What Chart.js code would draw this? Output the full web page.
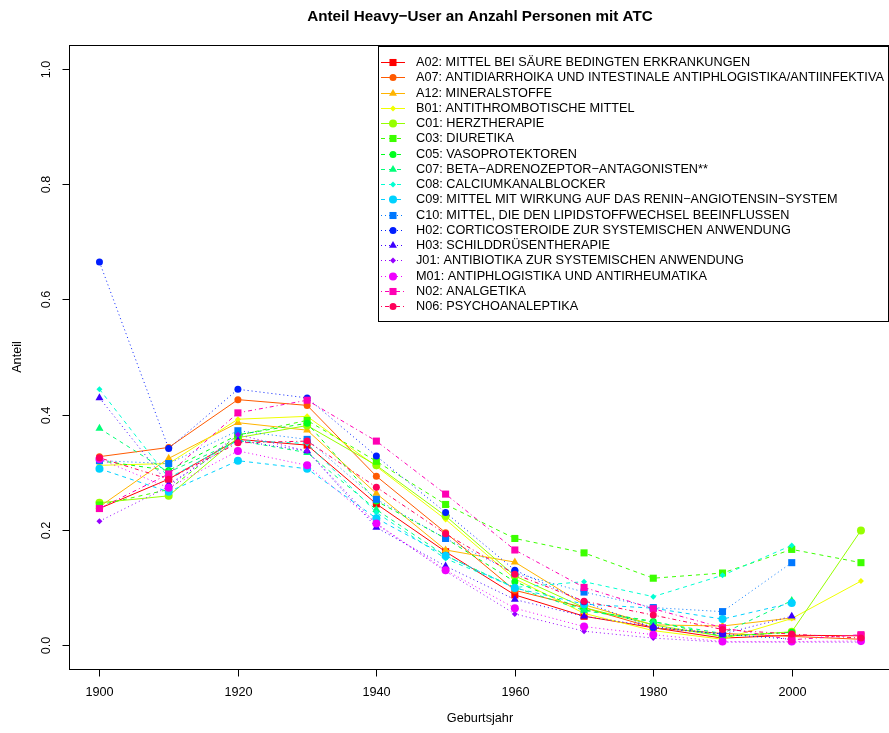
<!DOCTYPE html>
<html>
<head>
<meta charset="utf-8">
<script src="https://cdn.jsdelivr.net/npm/chart.js@4.4.1/dist/chart.umd.min.js"></script>
<style>
  html, body { margin: 0; padding: 0; background: #fff; overflow: hidden; }
  canvas { display: block; }
</style>
</head>
<body>
<canvas id="chart" width="889" height="733"></canvas>
<script>
// Geburtsjahrgänge (Dekaden)
const years = [1900, 1910, 1920, 1930, 1940, 1950, 1960, 1970, 1980, 1990, 2000, 2010];

const atcNames = [
  'A02: MITTEL BEI SÄURE BEDINGTEN ERKRANKUNGEN',
  'A07: ANTIDIARRHOIKA UND INTESTINALE ANTIPHLOGISTIKA/ANTIINFEKTIVA',
  'A12: MINERALSTOFFE',
  'B01: ANTITHROMBOTISCHE MITTEL',
  'C01: HERZTHERAPIE',
  'C03: DIURETIKA',
  'C05: VASOPROTEKTOREN',
  'C07: BETA\u2212ADRENOZEPTOR\u2212ANTAGONISTEN**',
  'C08: CALCIUMKANALBLOCKER',
  'C09: MITTEL MIT WIRKUNG AUF DAS RENIN\u2212ANGIOTENSIN\u2212SYSTEM',
  'C10: MITTEL, DIE DEN LIPIDSTOFFWECHSEL BEEINFLUSSEN',
  'H02: CORTICOSTEROIDE ZUR SYSTEMISCHEN ANWENDUNG',
  'H03: SCHILDDRÜSENTHERAPIE',
  'J01: ANTIBIOTIKA ZUR SYSTEMISCHEN ANWENDUNG',
  'M01: ANTIPHLOGISTIKA UND ANTIRHEUMATIKA',
  'N02: ANALGETIKA',
  'N06: PSYCHOANALEPTIKA'
];

// Anteil Heavy-User je ATC-Gruppe und Jahrgang
const A02 = [0.237, 0.288, 0.357, 0.347, 0.245, 0.162, 0.087, 0.050, 0.030, 0.012, 0.017, 0.016];
const A07 = [0.327, 0.343, 0.426, 0.416, 0.293, 0.195, 0.095, 0.065, 0.030, 0.020, 0.015, 0.010];
const A12 = [0.240, 0.324, 0.386, 0.373, 0.263, 0.165, 0.144, 0.070, 0.035, 0.033, 0.047, null];
const B01 = [0.312, 0.315, 0.392, 0.397, 0.310, 0.218, 0.115, 0.055, 0.025, 0.010, 0.046, 0.111];
const C01 = [0.247, 0.259, 0.360, 0.381, 0.312, 0.224, 0.120, 0.065, 0.035, 0.015, 0.023, 0.199];
const C03 = [0.243, 0.270, 0.364, 0.390, 0.319, 0.244, 0.185, 0.160, 0.116, 0.125, 0.166, 0.143];
const C05 = [0.320, 0.303, 0.365, 0.385, 0.250, 0.185, 0.110, 0.061, 0.041, 0.015, 0.022, null];
const C07 = [0.376, 0.300, 0.355, 0.334, 0.235, 0.155, 0.100, 0.060, 0.040, 0.020, 0.077, null];
const C08 = [0.444, 0.290, 0.355, 0.350, 0.230, 0.150, 0.100, 0.110, 0.084, 0.121, 0.173, null];
const C09 = [0.306, 0.266, 0.320, 0.306, 0.220, 0.155, 0.099, 0.071, 0.064, 0.045, 0.073, null];
const C10 = [0.320, 0.315, 0.372, 0.357, 0.253, 0.185, 0.125, 0.092, 0.065, 0.058, 0.143, null];
const H02 = [0.665, 0.341, 0.444, 0.429, 0.328, 0.230, 0.130, 0.075, 0.030, 0.019, 0.010, null];
const H03 = [0.429, 0.279, 0.355, 0.337, 0.204, 0.137, 0.079, 0.050, 0.032, 0.019, 0.050, null];
const J01 = [0.215, 0.275, 0.365, 0.337, 0.210, 0.128, 0.054, 0.024, 0.012, 0.005, 0.005, 0.005];
const M01 = [0.323, 0.273, 0.337, 0.312, 0.211, 0.130, 0.064, 0.032, 0.018, 0.006, 0.006, 0.007];
const N02 = [0.237, 0.297, 0.403, 0.425, 0.354, 0.262, 0.165, 0.100, 0.063, 0.030, 0.009, 0.018];
const N06 = [0.325, 0.288, 0.351, 0.354, 0.274, 0.193, 0.123, 0.076, 0.052, 0.027, 0.019, 0.012];

const seriesValues = [A02, A07, A12, B01, C01, C03, C05, C07, C08, C09, C10, H02, H03, J01, M01, N02, N06];

const xTicks = [1900, 1920, 1940, 1960, 1980, 2000];
const yTicks = [0.0, 0.2, 0.4, 0.6, 0.8, 1.0];

// Farben wie rainbow(17), Linientypen und Symbole wie lty/pch in R
const colors = ['#FF0000', '#FF5A00', '#FFB400', '#F0FF00', '#96FF00', '#3CFF00', '#00FF1E', '#00FF78',
  '#00FFD2', '#00D2FF', '#0078FF', '#001EFF', '#3C00FF', '#9600FF', '#F000FF', '#FF00B4', '#FF005A'];
const dashTypes = [[], [4, 4], [1, 3], [1, 3, 4, 3]];
const pchShapes = ['rect', 'circle', 'triangle', 'rectRot', 'circle'];
const pchRadius = [5, 3.5, 4.6, 3, 4];

const FONT = '"Liberation Sans", Arial, Helvetica, sans-serif';
const BASE = 12.7;

const datasets = seriesValues.map((vals, i) => ({
  label: atcNames[i],
  data: years.map((yr, k) => ({ x: yr, y: vals[k] })),
  borderColor: colors[i],
  backgroundColor: colors[i],
  borderWidth: 1,
  borderDash: dashTypes[Math.min(Math.floor(i / 5), 3)],
  pointStyle: pchShapes[i % 5],
  pointRadius: pchRadius[i % 5],
  pointBorderWidth: 0,
  pointBackgroundColor: colors[i],
  tension: 0,
  spanGaps: false,
  order: seriesValues.length - i   // spätere Gruppen liegen oben
}));

function seg(ctx, x1, y1, x2, y2) {
  ctx.beginPath();
  ctx.moveTo(x1, y1);
  ctx.lineTo(x2, y2);
  ctx.stroke();
}

// Rahmen, Achsen, Beschriftungen und Legende im Stil von base graphics
const rFrame = {
  id: 'rFrame',
  afterDraw(chart) {
    const { ctx, chartArea: a, scales: { x, y } } = chart;
    ctx.save();
    ctx.strokeStyle = '#000';
    ctx.fillStyle = '#000';
    ctx.lineWidth = 1;
    ctx.setLineDash([]);

    // Plotrahmen (rechte Kante liegt knapp ausserhalb der Zeichenfläche)
    ctx.strokeRect(Math.round(a.left) + 0.5, Math.round(a.top) + 0.5,
      Math.round(a.right - a.left) + 2, Math.round(a.bottom - a.top));

    // x-Achse
    ctx.font = BASE + 'px ' + FONT;
    ctx.textAlign = 'center';
    ctx.textBaseline = 'middle';
    const by = Math.round(a.bottom) + 0.5;
    const px0 = Math.round(x.getPixelForValue(xTicks[0])) + 0.5;
    const px1 = Math.round(x.getPixelForValue(xTicks[xTicks.length - 1])) + 0.5;
    seg(ctx, px0, by, px1, by);
    xTicks.forEach(t => {
      const px = Math.round(x.getPixelForValue(t)) + 0.5;
      seg(ctx, px, by, px, by + 7);
      ctx.fillText(String(t), px, a.bottom + 23);
    });

    // y-Achse
    const bx = Math.round(a.left) + 0.5;
    const py0 = Math.round(y.getPixelForValue(yTicks[0])) + 0.5;
    const py1 = Math.round(y.getPixelForValue(yTicks[yTicks.length - 1])) + 0.5;
    seg(ctx, bx, py0, bx, py1);
    yTicks.forEach(t => {
      const py = Math.round(y.getPixelForValue(t)) + 0.5;
      seg(ctx, bx - 7, py, bx, py);
      ctx.save();
      ctx.translate(a.left - 22.5, py);
      ctx.rotate(-Math.PI / 2);
      ctx.fillText(t.toFixed(1), 0, 0);
      ctx.restore();
    });

    // Titel und Achsentitel, zentriert über der Plotregion
    const cx = 480;
    ctx.fillText('Geburtsjahr', cx, 718);
    ctx.save();
    ctx.translate(17, (a.top + a.bottom) / 2);
    ctx.rotate(-Math.PI / 2);
    ctx.fillText('Anteil', 0, 0);
    ctx.restore();
    ctx.font = 'bold ' + (BASE * 1.2) + 'px ' + FONT;
    ctx.fillText('Anteil Heavy\u2212User an Anzahl Personen mit ATC', cx, 17);

    // Legende oben rechts
    const lx = 378.5, ly = 46.5, lw = 510, lh = 275;
    ctx.fillStyle = '#fff';
    ctx.fillRect(lx, ly, lw, lh);
    ctx.strokeStyle = '#000';
    ctx.strokeRect(lx, ly, lw, lh);
    ctx.font = BASE + 'px ' + FONT;
    ctx.textAlign = 'left';
    chart.data.datasets.forEach((ds, i) => {
      const yy = 62 + i * 15.25;
      ctx.strokeStyle = ds.borderColor;
      ctx.setLineDash(ds.borderDash);
      seg(ctx, 381, Math.round(yy) + 0.5, 405, Math.round(yy) + 0.5);
      ctx.setLineDash([]);
      ctx.fillStyle = ds.pointBackgroundColor;
      Chart.helpers.drawPoint(ctx, {
        pointStyle: ds.pointStyle, radius: ds.pointRadius, rotation: 0, borderWidth: 0
      }, 393, Math.round(yy) + 0.5);
      ctx.fillStyle = '#000';
      ctx.fillText(ds.label, 416, yy + 0.5);
    });
    ctx.restore();
  }
};

new Chart(document.getElementById('chart').getContext('2d'), {
  type: 'line',
  data: { datasets },
  options: {
    responsive: false,
    animation: false,
    devicePixelRatio: 1,
    layout: { autoPadding: false, padding: { left: 69, top: 45, right: 0, bottom: 64 } },
    plugins: { legend: { display: false }, tooltip: { enabled: false }, title: { display: false } },
    events: [],
    scales: {
      x: { type: 'linear', min: 1895.6, max: 2014.05, display: false },
      y: { type: 'linear', min: -0.0416, max: 1.0416, display: false }
    }
  },
  plugins: [rFrame]
});
</script>
</body>
</html>
